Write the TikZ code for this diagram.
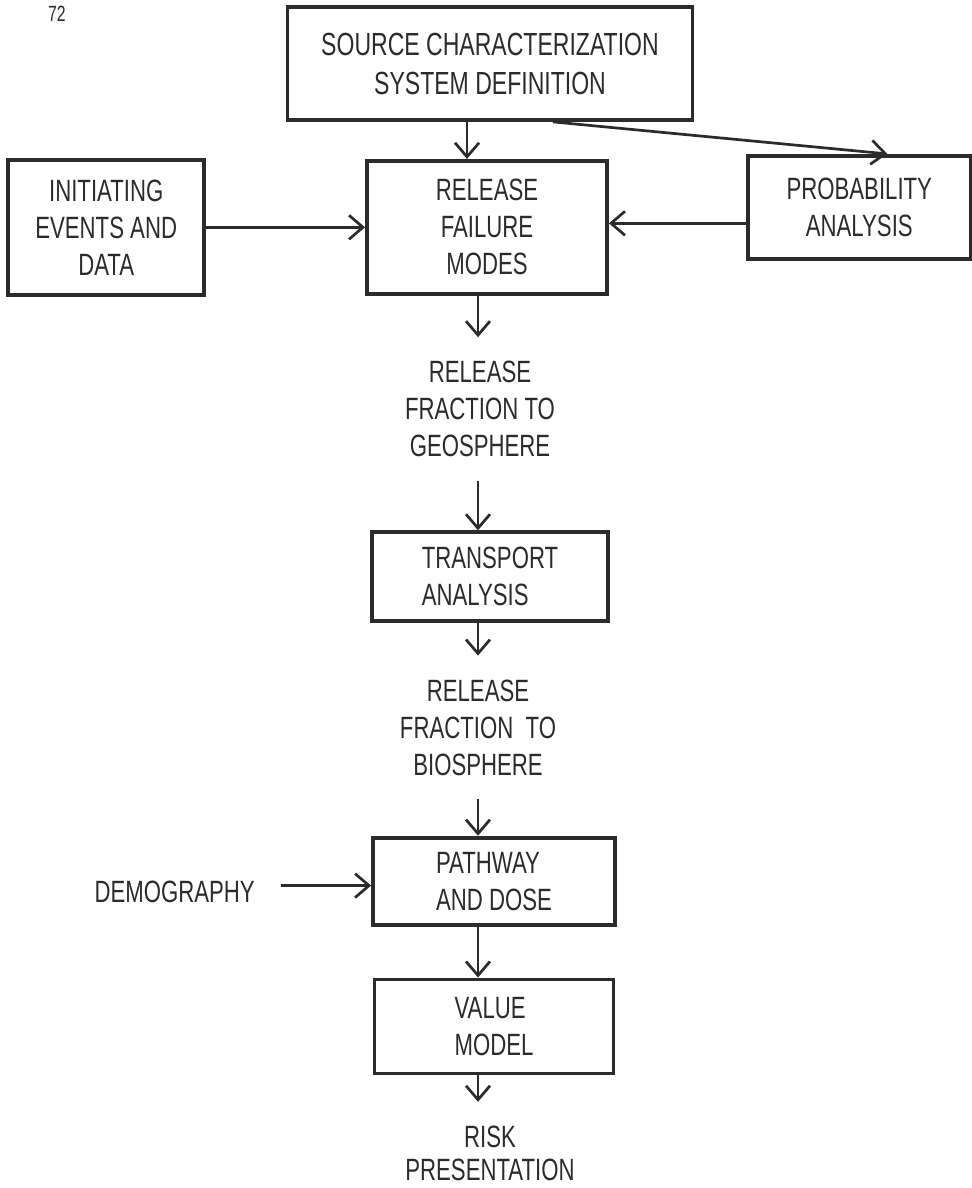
\documentclass[tikz,border=0pt]{standalone}
\usepackage{fontspec}
\setmainfont{Liberation Sans}[FakeStretch = 0.72]
\usetikzlibrary{arrows.meta, positioning}
\definecolor{ink}{HTML}{2B2B2B}
\tikzset{> = { Straight Barb[length = 7pt, width = 12pt] }}

\begin{document}
\begin{tikzpicture}[x = 0.5pt, y = -0.5pt, color = ink, font = \fontsize{15.4}{18.5}\selectfont, block/.style = { draw, line width = 1.9pt, align = center, inner sep = 4pt }, stage/.style = { align = center, inner xsep = 3pt, inner ysep = 11.75pt }, feed/.style = { ->, line width = 1.35pt }]
	\useasboundingbox (0, 0) rectangle (971, 1188);

	\node [font = \fontsize{11}{12}\selectfont] (page) at (57, 14) {72};

	\node [block, minimum width = 202.5pt, minimum height = 56.5pt, font = \fontsize{16}{19.5}\selectfont] (src) at (490, 63.5) {SOURCE CHARACTERIZATION\\SYSTEM DEFINITION};
	\node [block, minimum width = 120pt, minimum height = 66.5pt, below = 18.5pt of src, xshift = -1.5pt] (rel) {RELEASE\\FAILURE\\MODES};
	\node [block, minimum width = 98pt, minimum height = 67.5pt, left = 79.5pt of rel] (init) {INITIATING\\EVENTS AND\\DATA};
	\node [block, minimum width = 111.5pt, minimum height = 51.5pt, right = 68.5pt of rel, yshift = 10pt] (prob) {PROBABILITY\\ANALYSIS};

	\node [stage, below = 20.75pt of rel, xshift = -3.5pt] (geo) {RELEASE\\FRACTION TO\\GEOSPHERE};
	\node [block, align = left, minimum width = 118pt, minimum height = 44.5pt, below = 24.75pt of geo, xshift = 5pt] (trans) {TRANSPORT\\ANALYSIS};
	\node [stage, below = 16.25pt of trans, xshift = -6pt] (bio) {RELEASE\\FRACTION~~TO\\BIOSPHERE};
	\node [block, align = left, minimum width = 121pt, minimum height = 43.5pt, below = 18.25pt of bio, xshift = 8pt] (path) {PATHWAY\\AND DOSE};
	\node [stage, inner ysep = 3pt, left = 55pt of path, yshift = -5.25pt] (demo) {DEMOGRAPHY};
	\node [block, align = left, minimum width = 119.5pt, minimum height = 47pt, below = 25.5pt of path] (value) {VALUE\\MODEL};
	\node [stage, font = \fontsize{15.4}{16.5}\selectfont, below = 13.25pt of value, xshift = -2pt] (risk) {RISK\\PRESENTATION};

	\coordinate (spine) at (478, 0);

	\draw [feed] ([xshift = -11.5pt]src.south) -- ([xshift = -10pt]rel.north);
	\draw [feed] ([xshift = 31.5pt]src.south) -- ([xshift = 14pt]prob.north);
	\draw [feed] (init) -- (init -| rel.west);
	\draw [feed] ([yshift = -8pt]prob.west) -- ([yshift = -8pt]prob.west -| rel.east);

	\draw [feed] (rel.south -| spine) -- (geo.north -| spine);
	\draw [feed] (geo.south -| spine) -- (trans.north -| spine);
	\draw [feed] (trans.south -| spine) -- (bio.north -| spine);
	\draw [feed] (bio.south -| spine) -- (path.north -| spine);
	\draw [feed] (path.south -| spine) -- (value.north -| spine);
	\draw [feed] (value.south -| spine) -- (risk.north -| spine);

	\draw [feed] ([xshift = 10pt, yshift = 3pt]demo.east) -- ([yshift = -2.25pt]path.west);
\end{tikzpicture}
\end{document}
